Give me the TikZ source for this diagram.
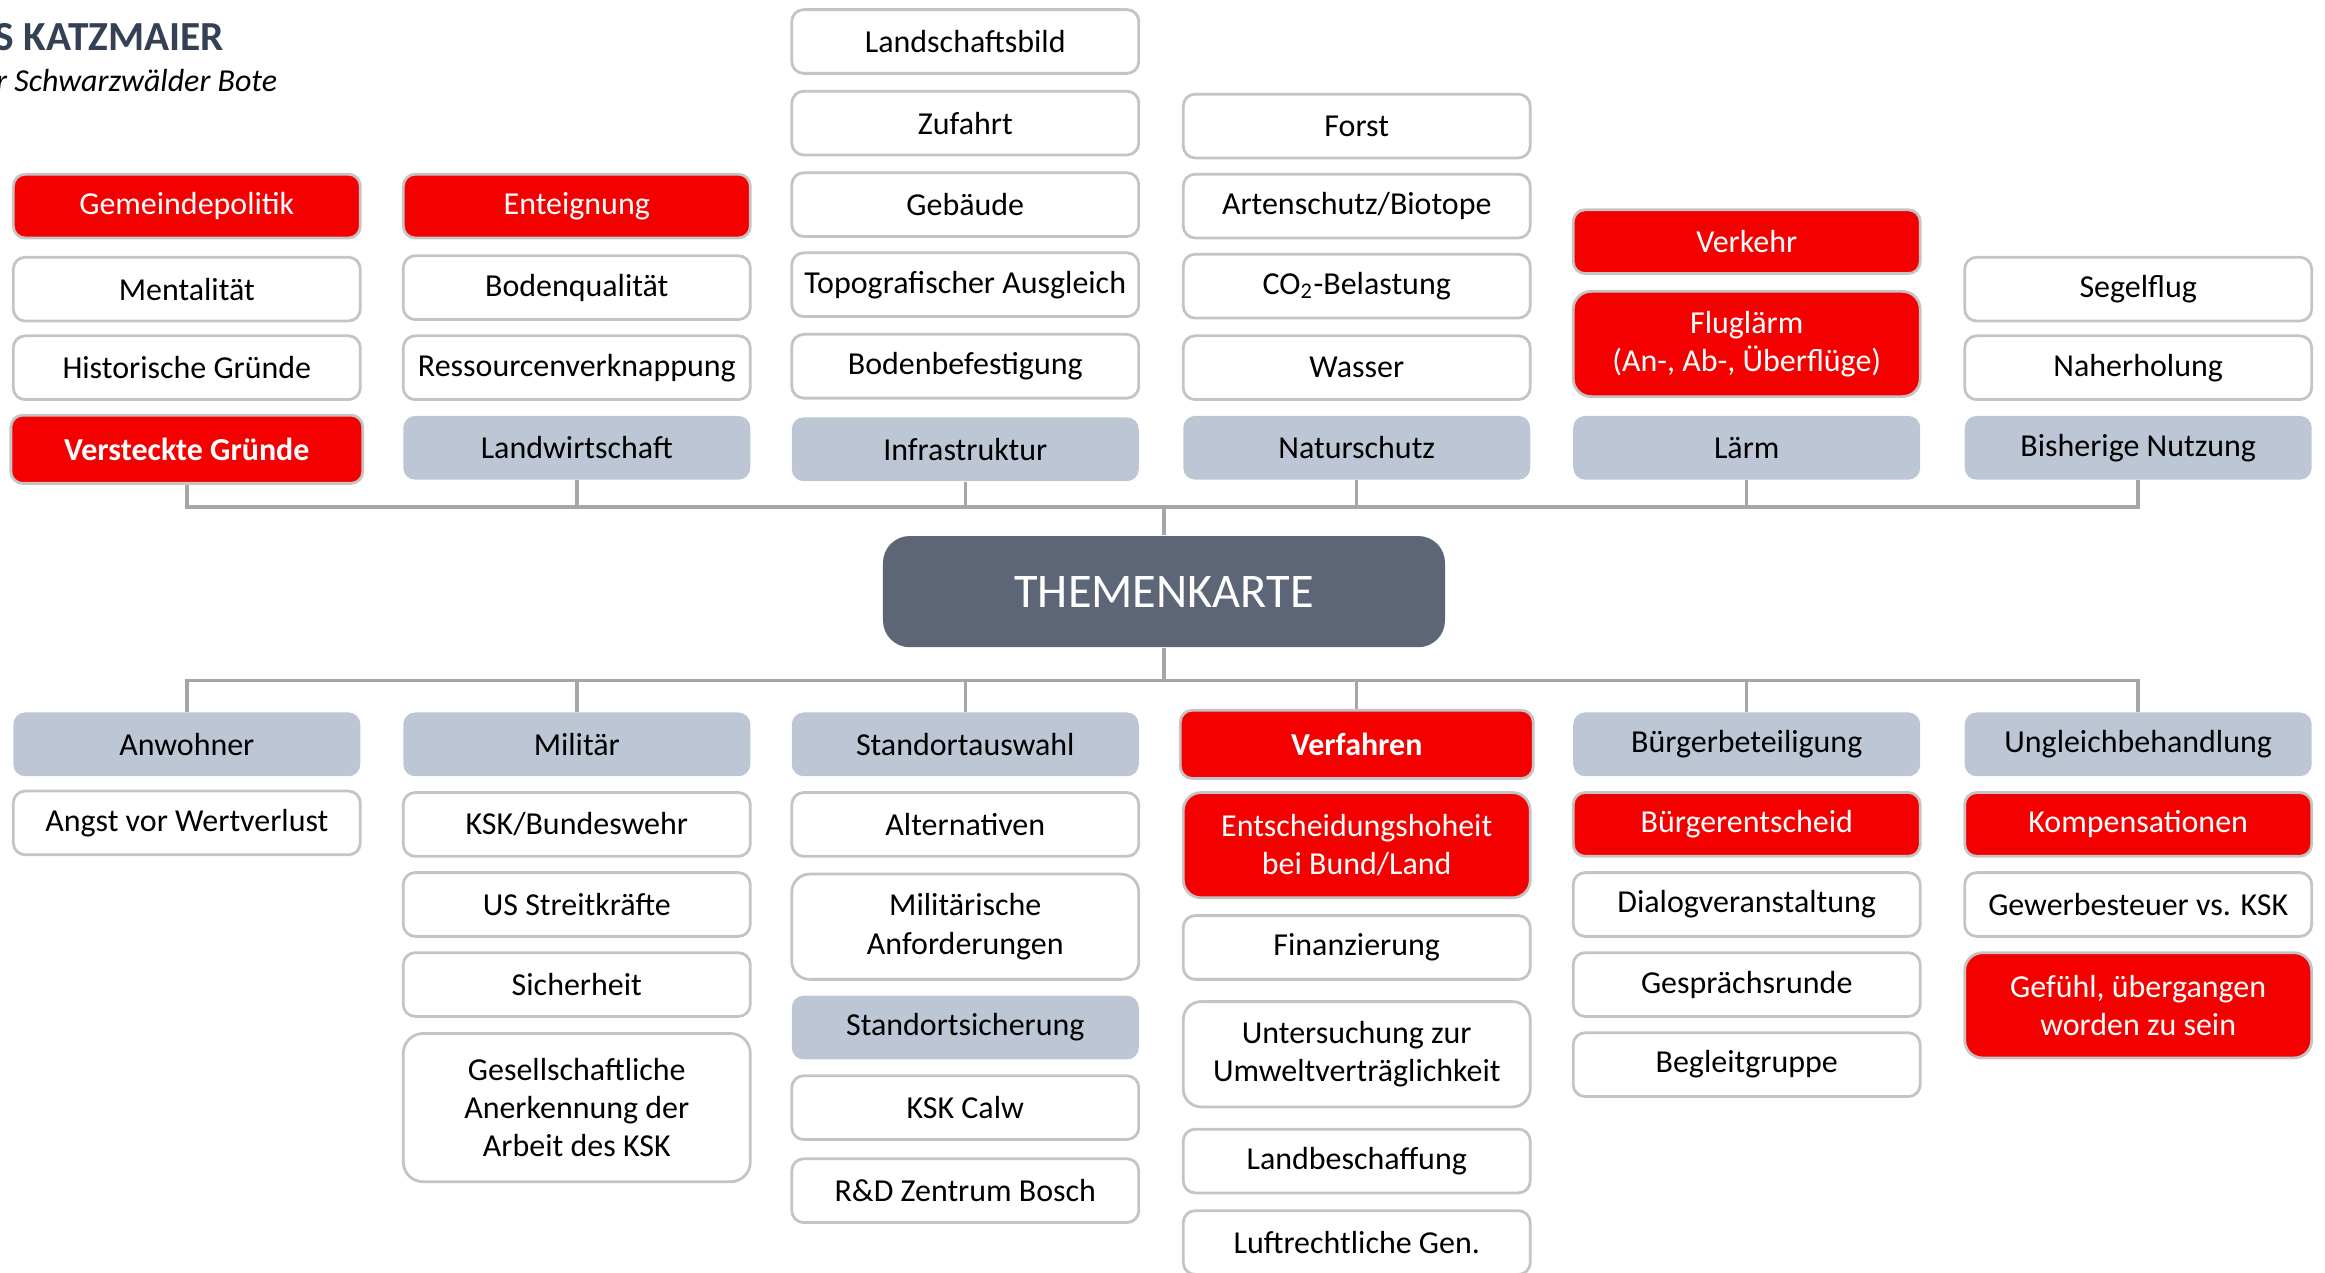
\documentclass[tikz,border=0pt]{standalone}
\usepackage{fontspec}
\setmainfont{Carlito}
\definecolor{kred}{HTML}{F50000}
\definecolor{kgray}{HTML}{BDC6D5}
\definecolor{kdark}{HTML}{5D6676}
\definecolor{kline}{HTML}{A6A6A6}
\definecolor{kborder}{HTML}{C4C4C4}
\definecolor{khead}{HTML}{344054}

\begin{document}
\begin{tikzpicture}
  [x=0.015cm,y=-0.015cm,
   box/.style={rounded corners=0.12cm,minimum width=3.51cm,minimum height=0.645cm,
     inner sep=0pt,align=center,font=\fontsize{9.2}{11}\selectfont},
   plain/.style={box,draw=kborder,line width=0.8pt,fill=white},
   hot/.style={box,draw=kborder,line width=0.8pt,fill=kred,text=white},
   cat/.style={box,fill=kgray},
   conn/.style={draw=kline,line width=1pt}]
  \useasboundingbox (0,0) rectangle (1568,858);

  % header
  \node[anchor=west,inner sep=0pt,text=khead,font=\fontsize{11.9}{13}\selectfont\bfseries] (hname) at (-4,25) {S KATZMAIER};
  \node[anchor=west,inner sep=0pt,font=\fontsize{9.2}{11}\selectfont\itshape] (hpaper) at (-3,54) {r Schwarzwälder Bote};

  % center
  \node[rounded corners=0.27cm,fill=kdark,text=white,minimum width=5.685cm,minimum height=1.125cm,
    inner sep=0pt,font=\fontsize{13.9}{16}\selectfont] (themen) at (785,399) {THEMENKARTE};
  \coordinate (tbus) at (785,342);
  \coordinate (bbus) at (785,459);

  % top
  \node[hot] (gpol) at (126,139) {Gemeindepolitik};
  \node[plain] (ment) at (126,195) {Mentalität};
  \node[plain] (hist) at (126,248) {Historische Gründe};
  \node[hot,minimum width=3.56cm,minimum height=0.69cm,font=\fontsize{9.2}{11}\selectfont\bfseries] (vers) at (126,303) {Versteckte Gründe};

  \node[hot] (enteig) at (389,139) {Enteignung};
  \node[plain] (boden) at (389,194) {Bodenqualität};
  \node[plain] (ress) at (389,248) {Ressourcenverknappung};
  \node[cat] (lawi) at (389,302) {Landwirtschaft};

  \node[plain] (lbild) at (651,28) {Landschaftsbild};
  \node[plain] (zuf) at (651,83) {Zufahrt};
  \node[plain] (geb) at (651,138) {Gebäude};
  \node[plain] (topo) at (651,192) {Topografischer Ausgleich};
  \node[plain] (bbef) at (651,247) {Bodenbefestigung};
  \node[cat] (infra) at (651,303) {Infrastruktur};

  \node[plain] (forst) at (915,85) {Forst};
  \node[plain] (arten) at (915,139) {Artenschutz/Biotope};
  \node[plain] (co2) at (915,193) {CO\textsubscript{2}-Belastung};
  \node[plain] (wass) at (915,248) {Wasser};
  \node[cat] (natur) at (915,302) {Naturschutz};

  \node[hot] (verk) at (1178,163) {Verkehr};
  \node[hot,minimum height=1.065cm,rounded corners=0.18cm] (flug) at (1178,232) {Fluglärm\\(An-, Ab-, Überflüge)};
  \node[cat] (laerm) at (1178,302) {Lärm};

  \node[plain] (segel) at (1442,195) {Segelflug};
  \node[plain] (naher) at (1442,248) {Naherholung};
  \node[cat] (bisher) at (1442,302) {Bisherige Nutzung};

  % bottom
  \node[cat] (anw) at (126,502) {Anwohner};
  \node[plain] (angst) at (126,555) {Angst vor Wertverlust};

  \node[cat] (mil) at (389,502) {Militär};
  \node[plain] (ksk) at (389,556) {KSK/Bundeswehr};
  \node[plain] (usst) at (389,610) {US Streitkräfte};
  \node[plain] (sich) at (389,664) {Sicherheit};
  \node[plain,minimum height=1.5cm,rounded corners=0.2cm] (anerk) at (389,747) {Gesellschaftliche\\Anerkennung der\\Arbeit des KSK};

  \node[cat] (sowahl) at (651,502) {Standortauswahl};
  \node[plain] (alt) at (651,556) {Alternativen};
  \node[plain,minimum height=1.065cm,rounded corners=0.18cm] (milanf) at (651,625) {Militärische\\Anforderungen};
  \node[cat] (sosich) at (651,693) {Standortsicherung};
  \node[plain] (calw) at (651,747) {KSK Calw};
  \node[plain] (bosch) at (651,803) {R\&D Zentrum Bosch};

  \node[hot,minimum width=3.57cm,minimum height=0.69cm,font=\fontsize{9.2}{11}\selectfont\bfseries] (verf) at (915,502) {Verfahren};
  \node[hot,minimum height=1.065cm,rounded corners=0.18cm] (entsch) at (915,570) {Entscheidungshoheit\\bei Bund/Land};
  \node[plain] (finanz) at (915,639) {Finanzierung};
  \node[plain,minimum height=1.065cm,rounded corners=0.18cm] (uvp) at (915,711) {Untersuchung zur\\Umweltverträglichkeit};
  \node[plain] (landb) at (915,783) {Landbeschaffung};
  \node[plain] (luft) at (915,838) {Luftrechtliche Gen.};

  \node[cat] (bbet) at (1178,502) {Bürgerbeteiligung};
  \node[hot] (bent) at (1178,556) {Bürgerentscheid};
  \node[plain] (dialog) at (1178,610) {Dialogveranstaltung};
  \node[plain] (gespr) at (1178,664) {Gesprächsrunde};
  \node[plain] (begl) at (1178,718) {Begleitgruppe};

  \node[cat] (ungl) at (1442,502) {Ungleichbehandlung};
  \node[hot] (komp) at (1442,556) {Kompensationen};
  \node[plain] (gewst) at (1442,610) {Gewerbesteuer vs. KSK};
  \node[hot,minimum height=1.065cm,rounded corners=0.18cm] (gefuehl) at (1442,678) {Gefühl, übergangen\\worden zu sein};

  % connectors
  \foreach \to in {vers,lawi,infra,natur,laerm,bisher}
    \draw[conn] (themen.north) -- (themen.north |- tbus) -| (\to.south);
  \foreach \to in {anw,mil,sowahl,verf,bbet,ungl}
    \draw[conn] (themen.south) -- (themen.south |- bbus) -| (\to.north);
\end{tikzpicture}
\end{document}
